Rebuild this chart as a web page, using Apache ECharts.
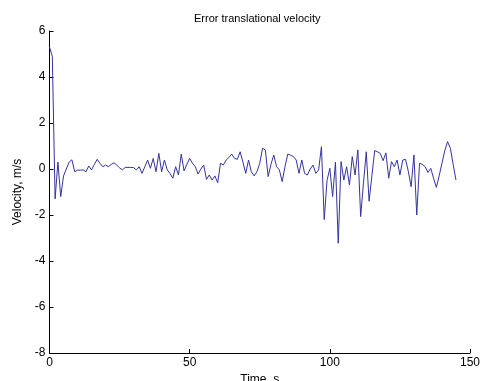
<!DOCTYPE html>
<html>
<head>
<meta charset="utf-8">
<script src="https://cdn.jsdelivr.net/npm/echarts@6/dist/echarts.min.js"></script>
<style>
  html, body { margin: 0; padding: 0; background: #fff; }
  #chart { width: 480px; height: 381px; }
</style>
</head>
<body>
<div id="chart"></div>
<script>
// Chart text
const titleText = 'Error translational velocity';
const xAxisName = 'Time, s';
const yAxisName = 'Velocity, m/s';

// Sampling: one sample per second starting at t = 0
const timeStart = 0;
const timeStep = 1;

// Velocity error samples (m/s)
const velocity = [
  5.3, 4.9, -1.3, 0.3, -1.2, -0.3, 0.0, 0.3, 0.4, -0.12,
  -0.05, -0.05, -0.04, -0.12, 0.13, -0.04, 0.2, 0.42, 0.25, 0.1,
  0.17, 0.1, 0.2, 0.27, 0.17, 0.05, -0.04, 0.07, 0.07, 0.07,
  0.06, -0.04, 0.1, -0.19, 0.1, 0.39, 0.03, 0.46, -0.12, 0.68,
  -0.12, 0.39, -0.04, -0.2, -0.4, 0.1, -0.26, 0.65, -0.08, 0.2,
  0.46, 0.25, 0.1, -0.22, 0.0, 0.17, -0.45, -0.26, -0.48, -0.3,
  -0.6, 0.25, 0.17, 0.39, 0.5, 0.65, 0.46, 0.42, 0.75, 0.3,
  -0.19, 0.39, -0.12, -0.3, -0.12, 0.25, 0.9, 0.83, -0.33, 0.2,
  0.61, 0.1, -0.04, -0.55, 0.1, 0.65, 0.6, 0.54, 0.39, -0.19,
  0.39, -0.19, -0.26, 0.0, 0.17, -0.19, -0.04, 0.97, -2.2, -0.5,
  0.03, -1.2, 0.3, -3.23, 0.32, -0.48, 0.1, -0.7, 0.54, -0.26,
  0.83, -2.07, -0.6, 0.75, -1.4, -0.3, 0.8, 0.75, 0.68, 0.36,
  0.7, -0.4, 0.32, 0.1, 0.39, -0.26, 0.39, 0.42, -0.1, -0.77,
  0.61, -2.0, 0.25, 0.2, 0.1, -0.15, 0.03, -0.4, -0.8, -0.3,
  0.25, 0.8, 1.19, 0.9, 0.2, -0.48
];

// Axis tick settings
const xTicks = { min: 0, max: 150, interval: 50 };
const yTicks = { min: -8, max: 6, interval: 2 };

const seriesData = velocity.map((v, i) => [timeStart + i * timeStep, v]);

const chart = echarts.init(document.getElementById('chart'), null, { renderer: 'canvas' });
const font = 'Liberation Sans, Arial, Helvetica, sans-serif';
const axisCommon = {
  axisLine: { show: true, onZero: false, lineStyle: { color: '#000', width: 1 } },
  axisTick: { show: true, inside: true, length: 4, lineStyle: { color: '#000' } },
  splitLine: { show: false },
  axisLabel: { color: '#000', fontSize: 12, fontFamily: font, margin: 4 },
  nameTextStyle: { color: '#000', fontSize: 12, fontFamily: font }
};

chart.setOption({
  animation: false,
  backgroundColor: '#fff',
  title: {
    text: titleText,
    left: 189,
    top: 8,
    textStyle: { color: '#000', fontSize: 11, fontWeight: 'normal', fontFamily: font }
  },
  grid: { left: 49.5, right: 10, top: 31, bottom: 28, containLabel: false, outerBoundsMode: 'none' },
  xAxis: Object.assign({}, axisCommon, {
    type: 'value',
    min: xTicks.min, max: xTicks.max, interval: xTicks.interval,
    name: xAxisName, nameLocation: 'middle', nameGap: 21
  }),
  yAxis: Object.assign({}, axisCommon, {
    type: 'value',
    min: yTicks.min, max: yTicks.max, interval: yTicks.interval,
    name: yAxisName, nameLocation: 'middle', nameGap: 23
  }),
  series: [{
    type: 'line',
    data: seriesData,
    showSymbol: false,
    symbol: 'none',
    lineStyle: { color: '#34349e', width: 1 }
  }]
});
</script>
</body>
</html>
